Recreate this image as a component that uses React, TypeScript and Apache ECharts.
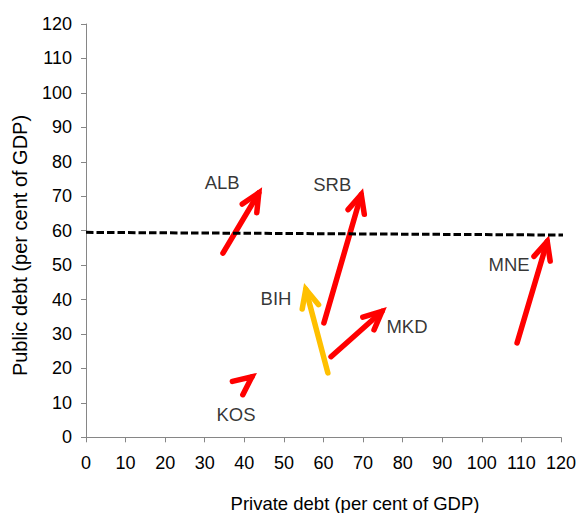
import React, { useEffect, useRef } from "react";
import * as echarts from "echarts";

const countries = ["ALB", "SRB", "BIH", "MKD", "KOS", "MNE"];
const startX = [34.6, 60.1, 61.1, 61.9, 41.2, 108.9];
const startY = [53.5, 33.2, 18.7, 23.4, 16.9, 27.4];
const endX = [44.5, 70.0, 55.1, 76.0, 43.2, 117.0];
const endY = [72.6, 72.3, 44.8, 37.8, 18.7, 58.7];
const arrowColors = ["#FF0000", "#FF0000", "#FFC000", "#FF0000", "#FF0000", "#FF0000"];
const labelX = [34.4, 62.2, 48.0, 81.1, 37.9, 106.9];
const labelY = [74.1, 73.5, 40.2, 32.3, 6.5, 50.3];
const thresholdLine = [
  [0, 59.5],
  [124, 58.7],
];
const xTitle = "Private debt (per cent of GDP)";
const yTitle = "Public debt (per cent of GDP)";

const FONT = "'Liberation Sans', Arial, sans-serif";

export default function App() {
  const ref = useRef<HTMLDivElement>(null);
  useEffect(() => {
    if (!ref.current) return;
    const chart = echarts.init(ref.current, undefined, { renderer: "svg" });
    const arrowData = countries.map((c, i) => ({
      name: c,
      value: [startX[i], startY[i], endX[i], endY[i]],
    }));
    const labelData = countries.map((c, i) => ({ name: c, value: [labelX[i], labelY[i]] }));
    chart.setOption({
      animation: false,
      textStyle: { fontFamily: FONT },
      grid: { left: 86, top: 24, width: 475, height: 413.3, containLabel: false },
      graphic: [
        {
          type: "text",
          x: 355,
          y: 503,
          style: {
            text: xTitle,
            fontSize: 18.5,
            fontFamily: FONT,
            fill: "#000",
            align: "center",
            verticalAlign: "middle",
          },
        },
        {
          type: "text",
          x: 20,
          y: 245.5,
          rotation: Math.PI / 2,
          style: {
            text: yTitle,
            fontSize: 20,
            fontFamily: FONT,
            fill: "#000",
            align: "center",
            verticalAlign: "middle",
          },
        },
      ],
      xAxis: {
        type: "value",
        min: 0,
        max: 120,
        interval: 10,
        axisLine: { show: true, onZero: false, lineStyle: { color: "#868686", width: 1 } },
        axisTick: { show: true, length: 5, lineStyle: { color: "#868686" } },
        axisLabel: { fontSize: 18, color: "#000", margin: 17, fontFamily: FONT },
        splitLine: { show: false },
      },
      yAxis: {
        type: "value",
        min: 0,
        max: 120,
        interval: 10,
        axisLine: { show: true, onZero: false, lineStyle: { color: "#868686", width: 1 } },
        axisTick: { show: true, length: 5, lineStyle: { color: "#868686" } },
        axisLabel: { fontSize: 18, color: "#000", margin: 14, fontFamily: FONT },
        splitLine: { show: false },
      },
      series: [
        {
          type: "line",
          data: thresholdLine,
          symbol: "none",
          clip: false,
          lineStyle: { color: "#000", width: 3, type: [7.5, 3] },
          silent: true,
        },
        {
          type: "custom",
          clip: false,
          data: arrowData,
          renderItem: (params: any, api: any) => {
            const p1 = api.coord([api.value(0), api.value(1)]);
            const tip = api.coord([api.value(2), api.value(3)]);
            const color = arrowColors[params.dataIndex];
            const ang = Math.atan2(tip[1] - p1[1], tip[0] - p1[0]);
            const lw = 5.5;
            const a = (25 * Math.PI) / 180;
            // pull the stroke vertex back so that the mitred outer point lands on the tip
            const back = lw / (2 * Math.sin(a));
            const p2 = [tip[0] - back * Math.cos(ang), tip[1] - back * Math.sin(ang)];
            const L = 20;
            const b1 = [p2[0] - L * Math.cos(ang - a), p2[1] - L * Math.sin(ang - a)];
            const b2 = [p2[0] - L * Math.cos(ang + a), p2[1] - L * Math.sin(ang + a)];
            return {
              type: "group",
              children: [
                {
                  type: "line",
                  shape: { x1: p1[0], y1: p1[1], x2: p2[0], y2: p2[1] },
                  style: { stroke: color, lineWidth: lw, lineCap: "round" },
                },
                {
                  type: "polyline",
                  shape: { points: [b1, p2, b2] },
                  style: { stroke: color, fill: null, lineWidth: lw, lineCap: "round", lineJoin: "miter" },
                },
              ],
            };
          },
        },
        {
          type: "scatter",
          data: labelData,
          symbolSize: 0,
          silent: true,
          label: {
            show: true,
            position: "inside",
            formatter: (p: any) => p.name,
            fontSize: 18.5,
            color: "#000",
            fontFamily: FONT,
          },
        },
      ],
    });
    return () => chart.dispose();
  }, []);
  return (
    <div
      ref={ref}
      style={{ position: "fixed", left: 0, top: 0, width: 579, height: 513, background: "#fff" }}
    />
  );
}
